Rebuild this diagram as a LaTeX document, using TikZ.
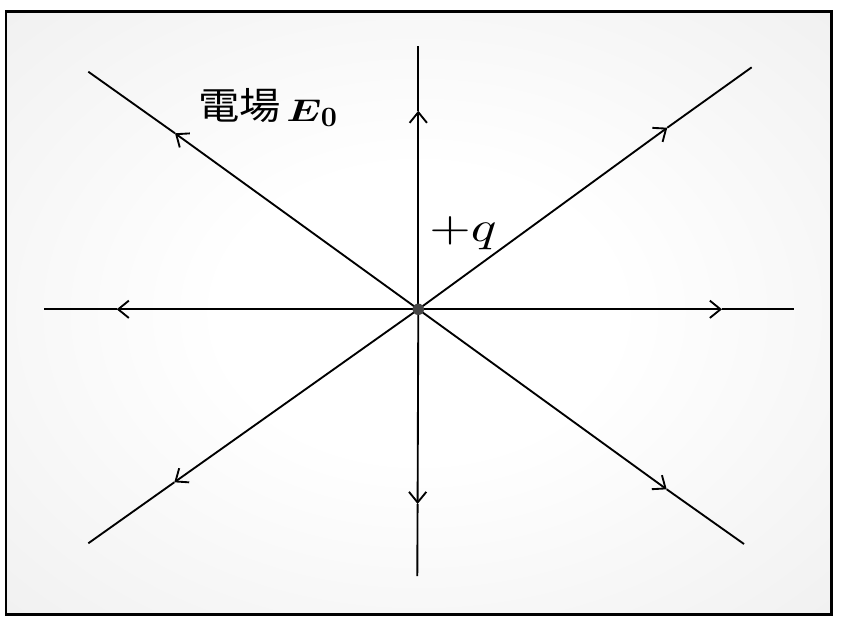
\documentclass[tikz,border=0pt]{standalone}
\usepackage{fontspec}
\usepackage{bm}
\usepackage{graphicx}
\newfontfamily\cjk{Noto Sans CJK JP}
\usetikzlibrary{arrows.meta}
\pgfdeclareradialshading{bgshade}{\pgfpoint{0bp}{0bp}}{color(0bp)=(white); color(12bp)=(white); color(50bp)=(black!9); color(72bp)=(black!16)}
\tikzset{
  fieldline/.style={line width=1.4pt, black},
  fieldarrow/.style={fieldline, -{Straight Barb[length=8pt,width=13pt]}},
  framebox/.style={line width=2pt, black},
  charge/.style={circle, fill=black!73, inner sep=0pt, minimum size=8.6pt},
  lbl/.style={anchor=base west, inner sep=0pt}
}
\begin{document}
\begin{tikzpicture}[x=0.75pt,y=-0.75pt]
\useasboundingbox (0,0) rectangle (847,625);
\fill[white] (0,0) rectangle (847,625);
\shade[shading=bgshade] (6,11.3) rectangle (831.3,614.7);
\draw[framebox] (6,11.3) rectangle (831.3,614.7);
\coordinate (O) at (418.3,309.3);
\coordinate (eL) at (44,309.3);      \coordinate (tL) at (116.7,309.3);
\coordinate (eR) at (794,309.3);     \coordinate (tR) at (722,309.3);
\coordinate (eU) at (418.3,46);      \coordinate (tU) at (418.3,110.7);
\coordinate (eD) at (417.3,576);     \coordinate (tD) at (417.6,504);
\coordinate (eUL) at (88.3,71.7);    \coordinate (tUL) at (175,133.3);
\coordinate (eUR) at (751.7,67.3);   \coordinate (tUR) at (667.3,127.7);
\coordinate (eDL) at (88.3,543.3);   \coordinate (tDL) at (174.3,482.3);
\coordinate (eDR) at (744,544);      \coordinate (tDR) at (666.7,489.3);
\foreach \d in {L,R,U,D,UL,UR,DL,DR}{
  \draw[fieldarrow] (O) -- (t\d);
  \draw[fieldline] (t\d) -- (e\d);
}
\node[charge] (q) at (O) {};
\node[lbl] (field) at (198,119.5) {\scalebox{3.1}[2.8]{\cjk 電場}};
\node[lbl] (E) at (286,121) {\scalebox{3.05}[2.35]{$\bm{E}$}};
\node[lbl] (zero) at (320.5,126.5) {\scalebox{2.1}[2.1]{$\bm{0}$}};
\node[lbl] (pq) at (429,241.5) {\scalebox{4.0}[3.2]{$+q$}};
\end{tikzpicture}
\end{document}
